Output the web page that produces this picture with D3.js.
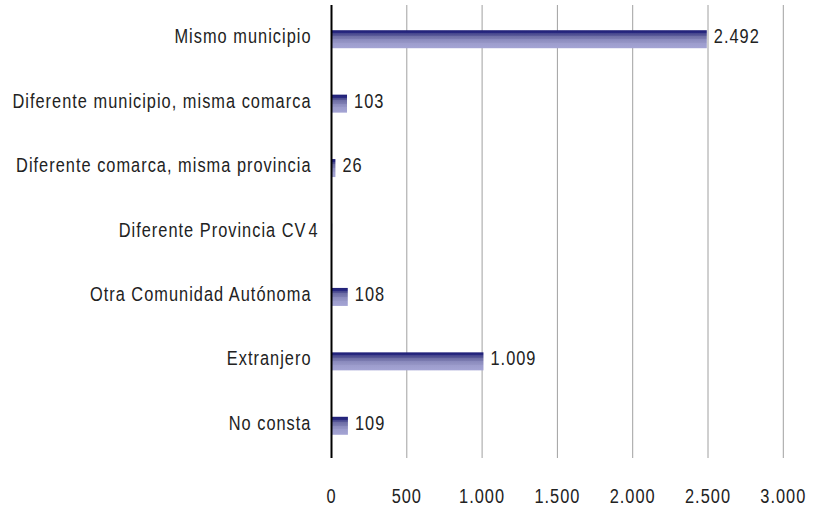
<!DOCTYPE html>
<html>
<head>
<meta charset="utf-8">
<script src="https://cdn.jsdelivr.net/npm/d3@7"></script>
<style>
  body { margin: 0; background: #fff; }
  text { font-family: "Liberation Sans", Arial, sans-serif; fill: #222; }
</style>
</head>
<body>
<div class="chart"></div>
<script>
const categories = [
  'Mismo municipio',
  'Diferente municipio, misma comarca',
  'Diferente comarca, misma provincia',
  'Diferente Provincia CV',
  'Otra Comunidad Autónoma',
  'Extranjero',
  'No consta'
]
const values = [2492, 103, 26, 4, 108, 1009, 109]
const ticks = [0, 500, 1000, 1500, 2000, 2500, 3000]

const width = 818, height = 506
const margin = {top: 7, right: 35, bottom: 48, left: 331.5}
const squeeze = 0.84   // the original font is a narrow one

const fmt = d3.formatLocale({decimal: ',', thousands: '.', grouping: [3], currency: ['', '']}).format(',d')

const svg = d3.select('.chart').append('svg')
  .attr('width', width)
  .attr('height', height)

const defs = svg.append('defs')
const grad = defs.append('linearGradient')
  .attr('id', 'barGrad')
  .attr('x1', 0).attr('y1', 0).attr('x2', 0).attr('y2', 1)
const stops = [
  [0, '#1f1f78'], [0.16, '#2a2a80'], [0.16, '#43438c'], [0.3, '#5a5a98'],
  [0.3, '#6c6ca4'], [0.5, '#7e7eb2'], [0.5, '#8a8abd'], [0.7, '#9696c6'],
  [0.7, '#9c9ccc'], [1, '#a4a4d4']
]
stops.forEach(s => grad.append('stop').attr('offset', s[0]).attr('stop-color', s[1]))

const x = d3.scaleLinear()
  .domain([0, 3000])
  .range([margin.left, 783.3])

const y = d3.scaleBand()
  .domain(categories)
  .range([margin.top, height - margin.bottom])

const data = categories.map((c, i) => ({cat: c, val: values[i]}))

// narrow-looking label helper
function label(g, px, py, anchor, txt) {
  g.append('text')
    .attr('transform', `translate(${px},${py}) scale(${squeeze},1)`)
    .attr('text-anchor', anchor)
    .attr('font-size', '19.5px')
    .attr('letter-spacing', '1.2px')
    .text(txt)
}

// gridlines
svg.append('g')
  .selectAll('line')
  .data(ticks.slice(1))
  .enter()
  .append('line')
  .attr('x1', d => x(d))
  .attr('x2', d => x(d))
  .attr('y1', margin.top - 2)
  .attr('y2', height - margin.bottom)
  .attr('stroke', '#a0a0a0')
  .attr('stroke-width', 1)

// tick labels
const tickG = svg.append('g')
ticks.forEach(t => label(tickG, x(t), 503, 'middle', fmt(t)))

const barH = 18

svg.append('g')
  .selectAll('rect')
  .data(data)
  .enter()
  .append('rect')
  .attr('x', x(0))
  .attr('y', d => y(d.cat) + y.bandwidth() / 2 - barH / 2)
  .attr('width', d => x(d.val) - x(0))
  .attr('height', barH)
  .attr('fill', 'url(#barGrad)')

// axis line
svg.append('line')
  .attr('x1', x(0)).attr('x2', x(0))
  .attr('y1', margin.top - 2)
  .attr('y2', height - margin.bottom)
  .attr('stroke', '#000')
  .attr('stroke-width', 2)

const tiny = d => x(d.val) - x(0) < 2

// category labels
const catG = svg.append('g')
data.forEach(d => {
  const mid = y(d.cat) + y.bandwidth() / 2
  label(catG, tiny(d) ? x(0) - 25 : x(0) - 20, mid + 4, 'end', d.cat)
})

// value labels
const valG = svg.append('g')
data.forEach(d => {
  const mid = y(d.cat) + y.bandwidth() / 2
  label(valG, tiny(d) ? x(0) - 23 : x(d.val) + 7, mid + 4, 'start', fmt(d.val))
})
</script>
</body>
</html>
